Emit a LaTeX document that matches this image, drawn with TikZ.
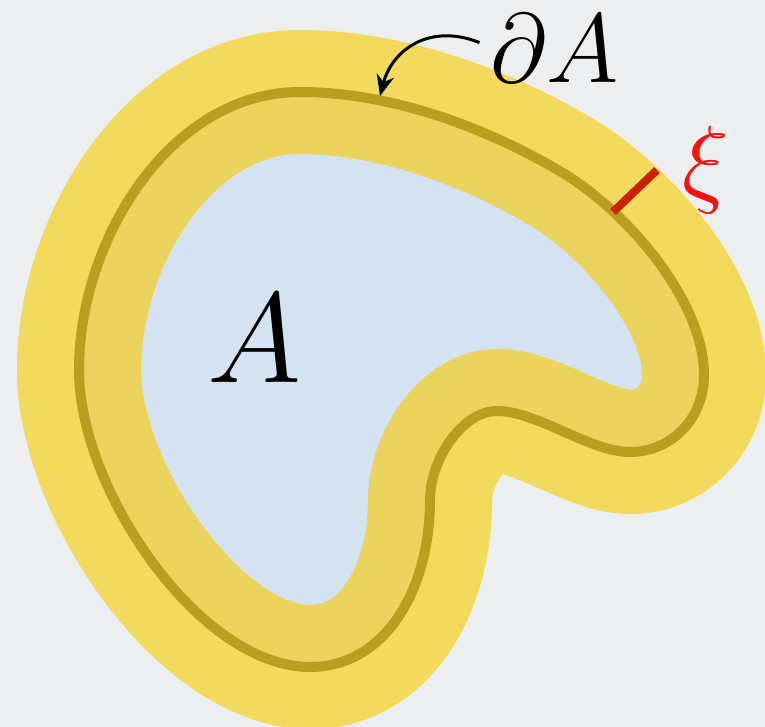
\documentclass[tikz,border=0pt]{standalone}
\usetikzlibrary{arrows.meta}
\definecolor{bg}{HTML}{ECEEF0}
\definecolor{outery}{HTML}{F2DA5C}
\definecolor{innery}{HTML}{EBD45E}
\definecolor{darkol}{HTML}{B89F1E}
\definecolor{blueA}{HTML}{D5E2F2}
\definecolor{redseg}{HTML}{CC2200}
\definecolor{redxi}{HTML}{FF1010}
\newcommand{\blobshape}[1]{\path[#1] (300,92)
  .. controls (390,92) and (486,127) .. (563,173)
  .. controls (626,211) and (704,300) .. (704,375)
  .. controls (704,420) and (670,452) .. (630,452)
  .. controls (590,452) and (537,411) .. (497,411)
  .. controls (462,411) and (430,460) .. (430,500)
  .. controls (430,590) and (385,667) .. (310,667)
  .. controls (200,667) and (79,490) .. (79,370)
  .. controls (79,240) and (170,92) .. (300,92) -- cycle;}
\tikzset{
  band/.style={line width=70.6pt, line join=round},
  bigmath/.style={inner sep=0pt, anchor=base, font=\Huge, scale=2.25},
}
\begin{document}
\begin{tikzpicture}[x=0.02cm, y=-0.02cm]
\fill[bg] (0,0) rectangle (765,727);
\useasboundingbox (0,0) rectangle (765,727);
\blobshape{fill=outery, draw=outery, band}
\begin{scope}
\blobshape{clip}
\blobshape{fill=blueA, draw=innery, band}
\end{scope}
\blobshape{draw=darkol, line width=5.7pt, line join=round}
\coordinate (r1) at (613,212);
\coordinate (r2) at (657,170);
\draw[redseg, line width=4.6pt] (r1) -- (r2);
\node[bigmath] (dA) at (555,82) {$\partial A$};
\node[bigmath, text=redxi] (xi) at (706,194) {$\xi$};
\node[inner sep=0pt, anchor=base, font=\Huge, scale=2.93] (A) at (255,382) {$A$};
\coordinate (tip) at (380,96);
\draw[-{Stealth[length=12pt, width=10pt]}, line width=1.7pt]
  ([xshift=-6pt, yshift=3pt]dA.west) .. controls +(-50,-20) and (392,50) .. (tip);
\end{tikzpicture}
\end{document}
